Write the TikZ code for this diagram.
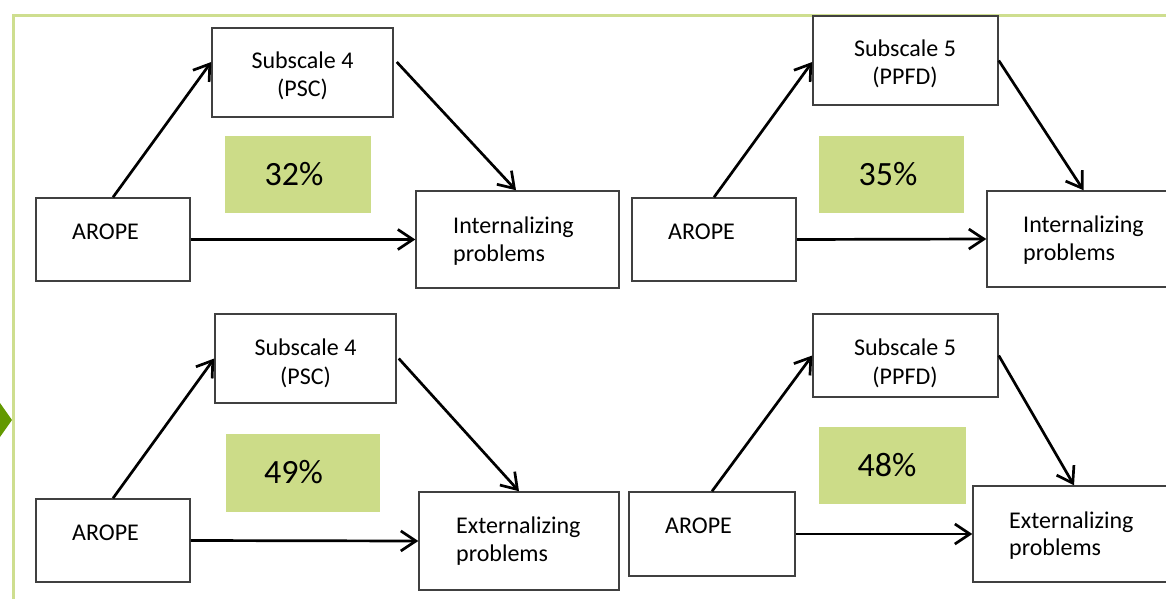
\documentclass[tikz,border=0pt]{standalone}
\usepackage{fontspec}
\setmainfont{Carlito}
\usetikzlibrary{arrows.meta}
\definecolor{olivefill}{RGB}{204,220,136}
\definecolor{oliveline}{RGB}{206,222,143}
\definecolor{darkolive}{RGB}{99,153,0}
\definecolor{boxgray}{RGB}{64,64,64}
\newcommand\mkbox[6]{\node[#6, minimum width={#4-#2}, minimum height={#5-#3}] (#1) at ({(#2+#4)/2},{(#3+#5)/2}) {};}
\begin{document}
\begin{tikzpicture}[x=1pt,y=-1pt,
  boxst/.style={draw=boxgray, line width=1.5pt, fill=white, inner sep=0pt, rectangle},
  pctst/.style={fill=olivefill, inner sep=0pt, rectangle},
  lbl/.style={font=\fontsize{24}{29}\selectfont, inner sep=0pt, anchor=base west},
  clbl/.style={font=\fontsize{24}{29}\selectfont, inner sep=0pt, anchor=base},
  big/.style={font=\fontsize{34}{40}\selectfont, inner sep=0pt, anchor=base},
  conn/.style={line width=2.7pt, -{Straight Barb[length=15pt,width=20pt]}}]
\useasboundingbox (0,0) rectangle (1166,599);
\clip (0,0) rectangle (1166,599);
% frame
\draw[oliveline, line width=3pt] (13,620) -- (13,16) -- (1180,16);
\fill[darkolive] (0,403) -- (12,420) -- (0,437) -- cycle;
% ---------- top left
\mkbox{a1}{36}{198}{190}{281}{boxst}
\mkbox{s1}{212}{28}{393}{117}{boxst}
\mkbox{p1}{225}{136}{371}{213}{pctst}
\mkbox{i1}{416}{191}{619}{288}{boxst}
\node[lbl] at (72,239) {AROPE};
\node[clbl] at (302.5,69) {Subscale 4};
\node[clbl] at (302.5,97) {(PSC)};
\node[big] at (294,185) {32\%};
\node[lbl] at (453,233) {Internalizing};
\node[lbl] at (453,261) {problems};
\draw[conn] (a1.north) -- ([yshift=10.5pt]s1.west);
\draw[conn] ([xshift=3pt,yshift=10.5pt]s1.east) -- ([xshift=-1.5pt]i1.north);
\draw[conn] (a1.east) -- (i1.west);
% ---------- top right
\mkbox{a2}{632}{198}{796}{281}{boxst}
\mkbox{s2}{813}{16}{998}{105}{boxst}
\mkbox{p2}{819}{136}{964}{213}{pctst}
\mkbox{i2}{987}{191}{1180}{287}{boxst}
\node[lbl] at (668,239) {AROPE};
\node[clbl] at (905,57) {Subscale 5};
\node[clbl] at (905,85) {(PPFD)};
\node[big] at (888,185) {35\%};
\node[lbl] at (1023,232) {Internalizing};
\node[lbl] at (1023,260) {problems};
\draw[conn] (a2.north) -- ([yshift=-1.5pt]s2.west);
\draw[conn] (s2.east) -- (i2.north);
\draw[conn] (a2.east) -- (i2.west);
% ---------- bottom left
\mkbox{a3}{36}{499}{190}{582}{boxst}
\mkbox{s3}{215}{314}{396}{403}{boxst}
\mkbox{p3}{226}{434}{380}{512}{pctst}
\mkbox{e1}{419}{492}{619}{590}{boxst}
\node[lbl] at (72,540) {AROPE};
\node[clbl] at (305.5,355) {Subscale 4};
\node[clbl] at (305.5,384) {(PSC)};
\node[big] at (293.5,483) {49\%};
\node[lbl] at (456,533) {Externalizing};
\node[lbl] at (456,561) {problems};
\draw[conn] (a3.north) -- (s3.west);
\draw[conn] ([xshift=2pt]s3.east) -- (e1.north);
\draw[conn] (a3.east) -- (e1.west);
% ---------- bottom right
\mkbox{a4}{629}{492}{795}{576}{boxst}
\mkbox{s4}{813}{314}{998}{397}{boxst}
\mkbox{p4}{819}{427}{966}{504}{pctst}
\mkbox{e2}{973}{486}{1175}{582}{boxst}
\node[lbl] at (665,533) {AROPE};
\node[clbl] at (905,355) {Subscale 5};
\node[clbl] at (905,384) {(PPFD)};
\node[big] at (887,476) {48\%};
\node[lbl] at (1009,528) {Externalizing};
\node[lbl] at (1009,555) {problems};
\draw[conn] (a4.north) -- (s4.west);
\draw[conn] (s4.east) -- (e2.north);
\draw[conn] (a4.east) -- (e2.west);
\end{tikzpicture}
\end{document}
